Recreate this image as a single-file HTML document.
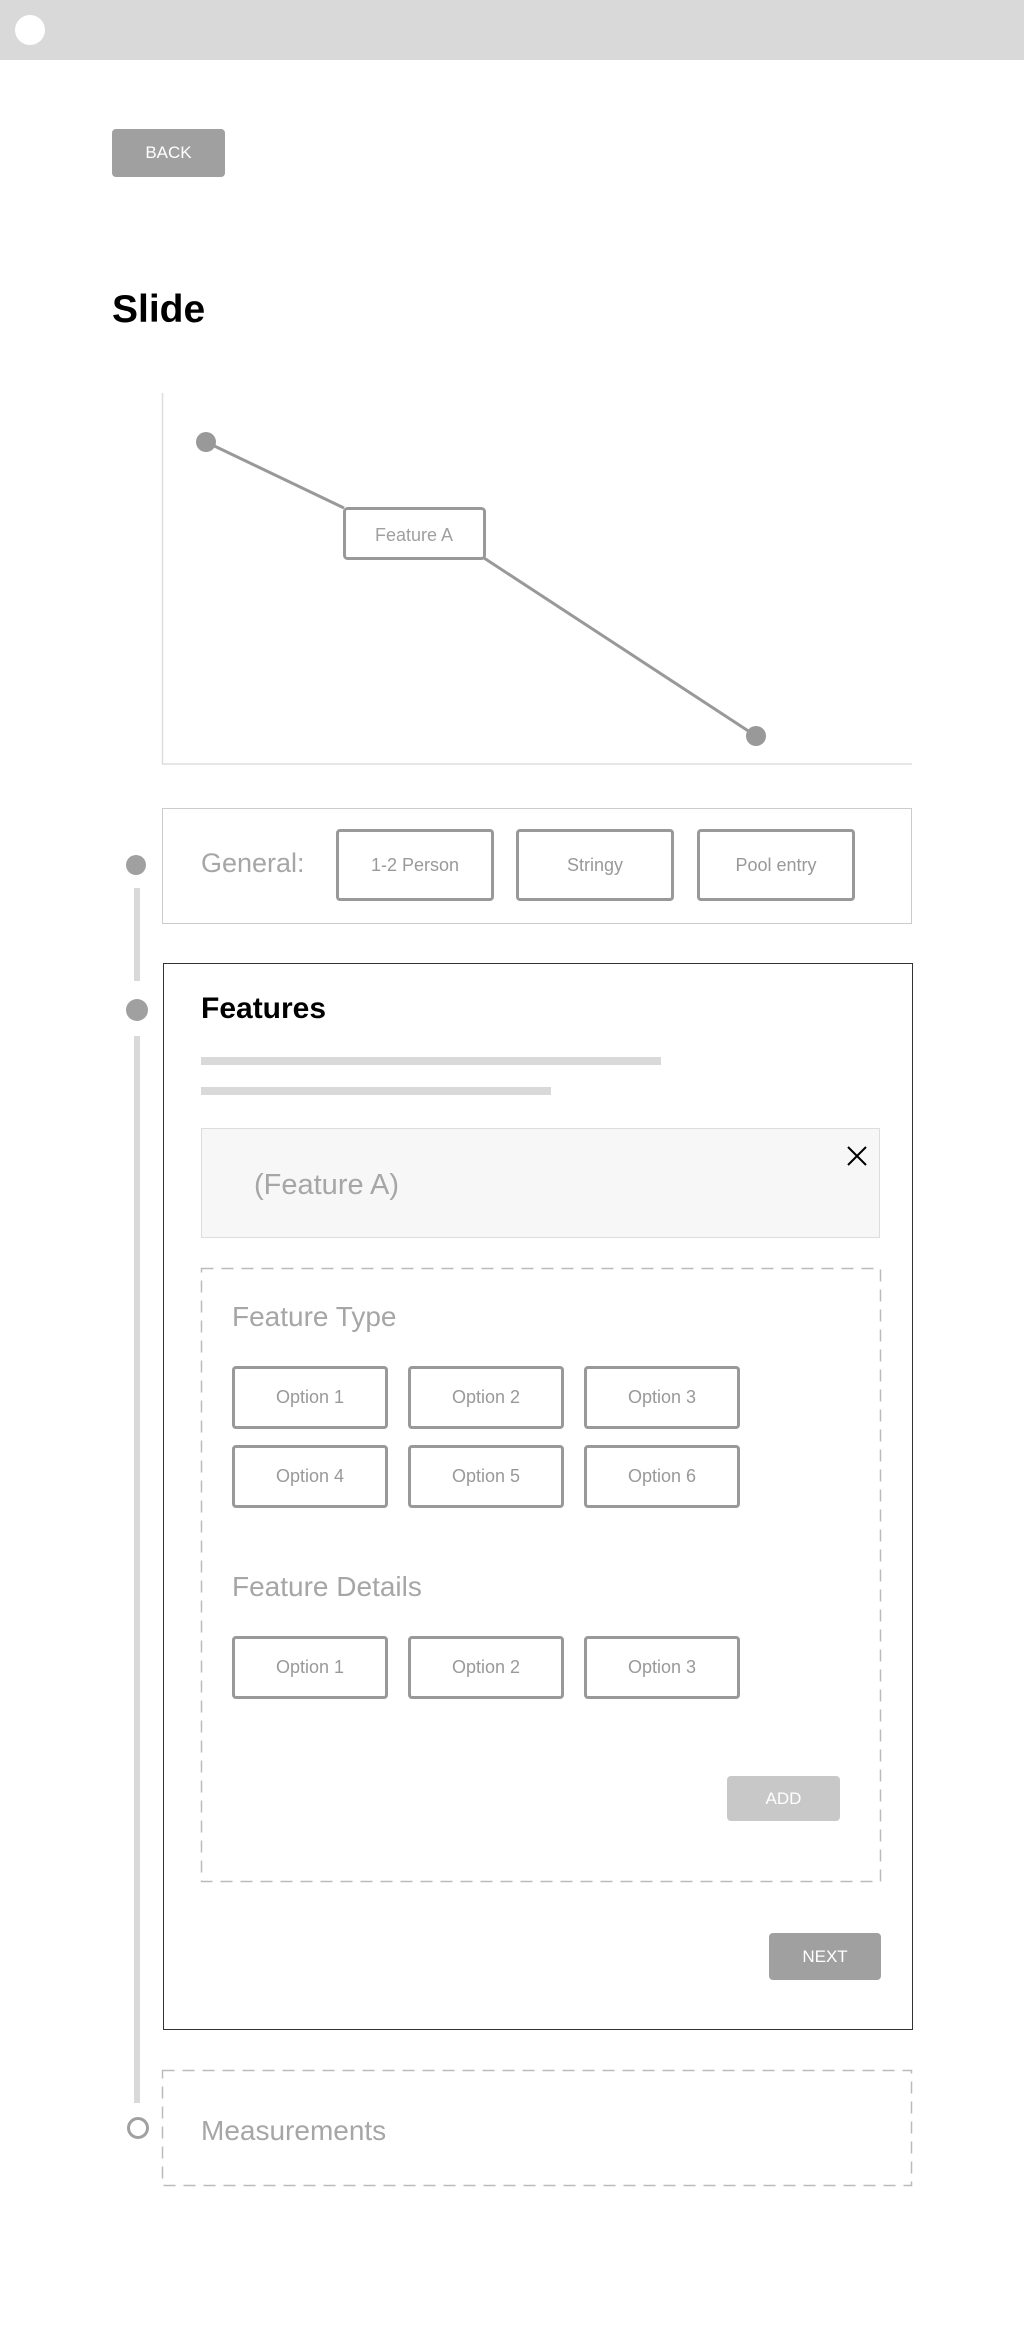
<!DOCTYPE html>
<html><head><meta charset="utf-8"><style>
*{margin:0;padding:0;box-sizing:border-box}
body{width:1024px;height:2335px;background:#fff;position:relative;font-family:"Liberation Sans",sans-serif;overflow:hidden}
.a{position:absolute}
.btn{position:absolute;background:#a0a0a0;color:#fff;border-radius:4px;display:flex;align-items:center;justify-content:center;font-size:17px}
.opt{position:absolute;border:3px solid #999;border-radius:4px;display:flex;align-items:center;justify-content:center;color:#999;font-size:18px;background:#fff}
.lt{position:absolute;color:#a6a6a6;font-weight:300;white-space:nowrap}
</style></head><body>
<div class="a" style="left:0;top:0;width:1024px;height:60px;background:#d9d9d9"></div>
<div class="a" style="left:15px;top:15px;width:30px;height:30px;border-radius:50%;background:#fff"></div>
<div class="btn" style="left:112px;top:129px;width:113px;height:48px">BACK</div>
<div class="a" style="left:112px;top:288px;font-size:39px;font-weight:bold;color:#000">Slide</div>

<svg class="a" style="left:0;top:0" width="1024" height="800">
<line x1="162.5" y1="393" x2="162.5" y2="764" stroke="#ddd" stroke-width="1.5"/>
<line x1="162" y1="764" x2="912" y2="764" stroke="#ddd" stroke-width="1.5"/>
<line x1="206" y1="442" x2="344" y2="508" stroke="#999" stroke-width="3"/>
<line x1="484" y1="558" x2="756" y2="736" stroke="#999" stroke-width="3"/>
<circle cx="206" cy="442" r="10" fill="#999"/>
<circle cx="756" cy="736" r="10" fill="#999"/>
<rect x="344.5" y="508.5" width="140" height="50" rx="3" fill="#fff" stroke="#999" stroke-width="3"/>
<text x="414" y="541" text-anchor="middle" font-family="Liberation Sans, sans-serif" font-size="18" fill="#a0a0a0">Feature A</text>
</svg>

<div class="a" style="left:162px;top:808px;width:750px;height:116px;border:1.5px solid #ccc"></div>
<div class="lt" style="left:201px;top:848px;font-size:27px">General:</div>
<div class="opt" style="left:336px;top:829px;width:158px;height:72px">1-2 Person</div>
<div class="opt" style="left:516px;top:829px;width:158px;height:72px">Stringy</div>
<div class="opt" style="left:697px;top:829px;width:158px;height:72px">Pool entry</div>

<div class="a" style="left:126px;top:855px;width:20px;height:20px;border-radius:50%;background:#a0a0a0"></div>
<div class="a" style="left:134px;top:888px;width:6px;height:93px;background:#d9d9d9"></div>
<div class="a" style="left:126px;top:999px;width:22px;height:22px;border-radius:50%;background:#a0a0a0"></div>
<div class="a" style="left:134px;top:1036px;width:6px;height:1067px;background:#d9d9d9"></div>
<div class="a" style="left:127px;top:2117px;width:22px;height:22px;border-radius:50%;border:3px solid #a0a0a0"></div>

<div class="a" style="left:163px;top:963px;width:750px;height:1067px;border:1.5px solid #333"></div>
<div class="a" style="left:201px;top:992px;font-size:30px;font-weight:bold;color:#000">Features</div>
<div class="a" style="left:201px;top:1057px;width:460px;height:8px;background:#d9d9d9"></div>
<div class="a" style="left:201px;top:1087px;width:350px;height:8px;background:#d9d9d9"></div>
<div class="a" style="left:201px;top:1128px;width:679px;height:110px;background:#f7f7f7;border:1.5px solid #ddd"></div>
<div class="lt" style="left:254px;top:1169px;font-size:29px">(Feature A)</div>
<svg class="a" style="left:847px;top:1146px" width="20" height="20"><path d="M1 1L19 19M19 1L1 19" stroke="#000" stroke-width="2"/></svg>

<svg class="a" style="left:0;top:0" width="1024" height="2335">
<rect x="201.5" y="1268.5" width="679" height="613" fill="none" stroke="#bbb" stroke-width="1.5" stroke-dasharray="12 8"/>
<rect x="162.5" y="2070.5" width="749" height="115" fill="none" stroke="#bbb" stroke-width="1.5" stroke-dasharray="12 8"/>
</svg>
<div class="lt" style="left:232px;top:1301px;font-size:28px">Feature Type</div>
<div class="opt" style="left:232px;top:1366px;width:156px;height:63px">Option 1</div>
<div class="opt" style="left:408px;top:1366px;width:156px;height:63px">Option 2</div>
<div class="opt" style="left:584px;top:1366px;width:156px;height:63px">Option 3</div>
<div class="opt" style="left:232px;top:1445px;width:156px;height:63px">Option 4</div>
<div class="opt" style="left:408px;top:1445px;width:156px;height:63px">Option 5</div>
<div class="opt" style="left:584px;top:1445px;width:156px;height:63px">Option 6</div>
<div class="lt" style="left:232px;top:1571px;font-size:28px">Feature Details</div>
<div class="opt" style="left:232px;top:1636px;width:156px;height:63px">Option 1</div>
<div class="opt" style="left:408px;top:1636px;width:156px;height:63px">Option 2</div>
<div class="opt" style="left:584px;top:1636px;width:156px;height:63px">Option 3</div>
<div class="btn" style="left:727px;top:1776px;width:113px;height:45px;background:#c8c8c8">ADD</div>
<div class="btn" style="left:769px;top:1933px;width:112px;height:47px">NEXT</div>

<div class="lt" style="left:201px;top:2115px;font-size:28px">Measurements</div>
</body></html>
